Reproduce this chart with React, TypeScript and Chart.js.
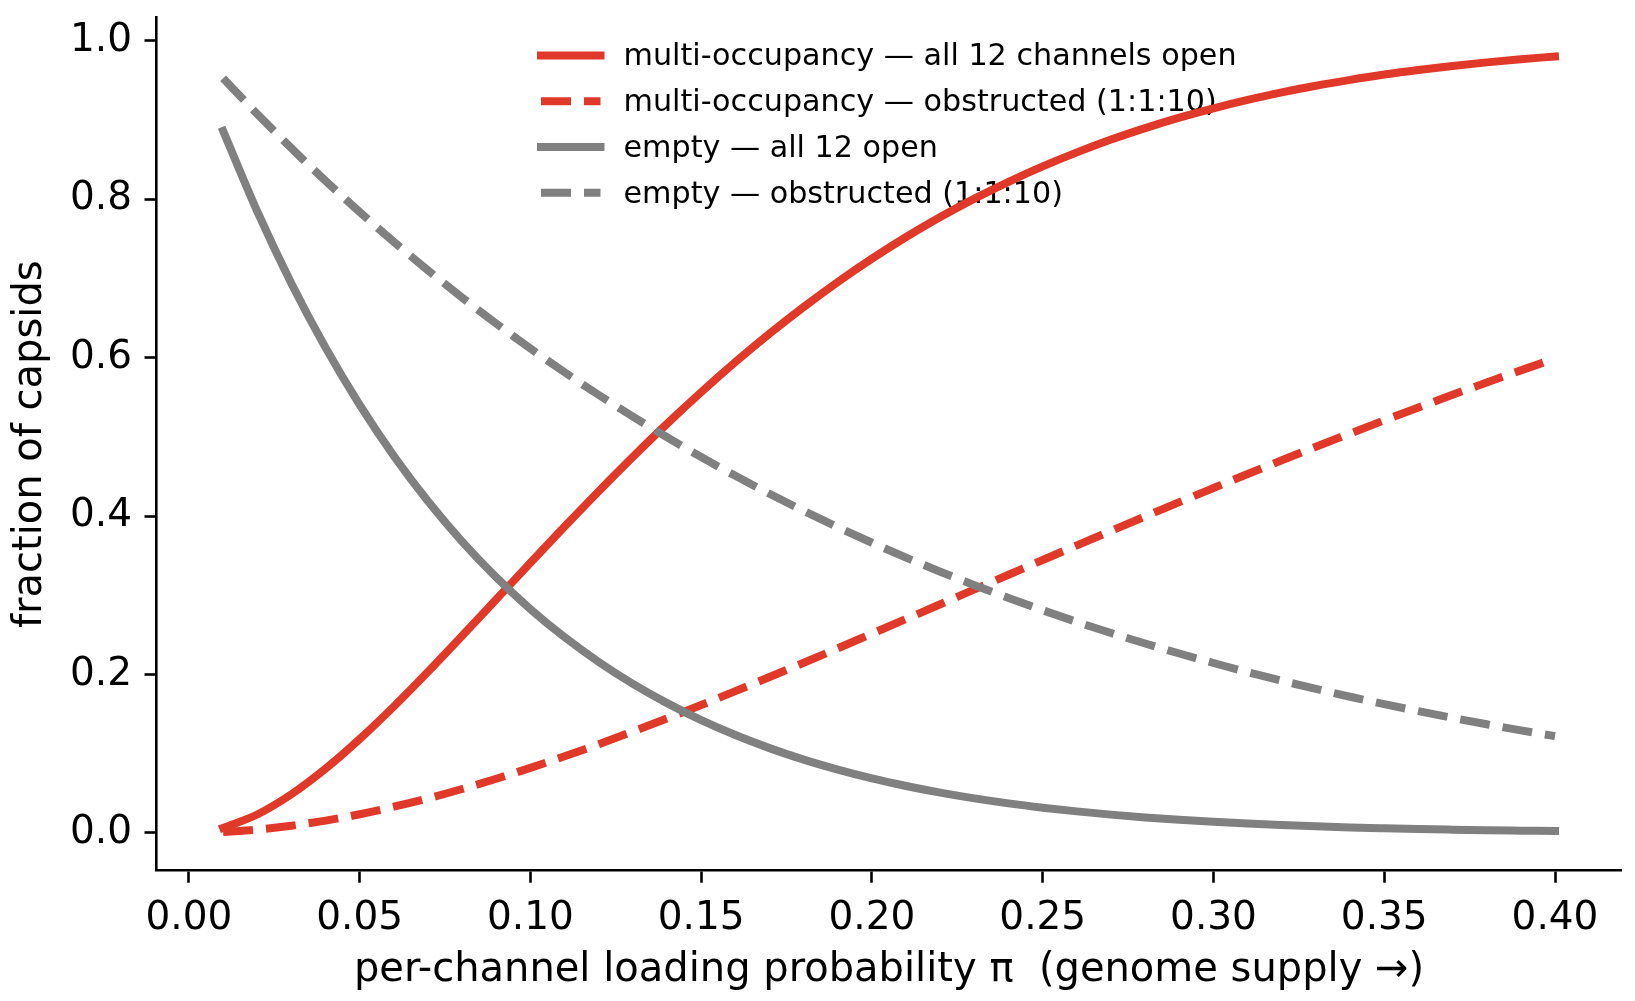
import React, { useEffect, useRef } from "react";
import { Chart, registerables } from "chart.js";

Chart.register(...registerables);

// ---- data ----
const piValues = [
  0.01, 0.02, 0.03, 0.04, 0.05, 0.06, 0.07, 0.08, 0.09, 0.1,
  0.11, 0.12, 0.13, 0.14, 0.15, 0.16, 0.17, 0.18, 0.19, 0.2,
  0.21, 0.22, 0.23, 0.24, 0.25, 0.26, 0.27, 0.28, 0.29, 0.3,
  0.31, 0.32, 0.33, 0.34, 0.35, 0.36, 0.37, 0.38, 0.39, 0.4,
];

const multiAllOpen = [
  0.0062, 0.0231, 0.0486, 0.0809, 0.1184, 0.1595, 0.2033, 0.2487, 0.2948, 0.341,
  0.3867, 0.4314, 0.4748, 0.5166, 0.5565, 0.5945, 0.6304, 0.6641, 0.6957, 0.7251,
  0.7524, 0.7776, 0.8009, 0.8222, 0.8416, 0.8593, 0.8755, 0.89, 0.9032, 0.915,
  0.9256, 0.935, 0.9435, 0.9509, 0.9576, 0.9634, 0.9685, 0.973, 0.977, 0.9804,
];

const multiObstructed = [
  0.001, 0.0041, 0.0089, 0.0154, 0.0234, 0.0329, 0.0435, 0.0553, 0.0682, 0.082,
  0.0966, 0.1119, 0.1279, 0.1444, 0.1614, 0.1789, 0.1967, 0.2147, 0.233, 0.2515,
  0.27, 0.2886, 0.3073, 0.3259, 0.3445, 0.363, 0.3813, 0.3995, 0.4176, 0.4354,
  0.4531, 0.4704, 0.4875, 0.5043, 0.5209, 0.5371, 0.5531, 0.5687, 0.584, 0.5989,
];

const emptyAllOpen = [
  0.8864, 0.7847, 0.6938, 0.6127, 0.5404, 0.4759, 0.4186, 0.3677, 0.3225, 0.2824,
  0.247, 0.2157, 0.188, 0.1637, 0.1422, 0.1234, 0.1069, 0.0924, 0.0798, 0.0687,
  0.0591, 0.0507, 0.0434, 0.0371, 0.0317, 0.027, 0.0229, 0.0194, 0.0164, 0.0138,
  0.0116, 0.0098, 0.0082, 0.0068, 0.0057, 0.0047, 0.0039, 0.0032, 0.0027, 0.0022,
];

const emptyObstructed = [
  0.9528, 0.9078, 0.8646, 0.8234, 0.784, 0.7463, 0.7103, 0.6759, 0.643, 0.6115,
  0.5816, 0.5529, 0.5256, 0.4995, 0.4745, 0.4508, 0.4281, 0.4065, 0.3859, 0.3663,
  0.3475, 0.3297, 0.3127, 0.2965, 0.281, 0.2663, 0.2523, 0.239, 0.2264, 0.2144,
  0.2029, 0.192, 0.1817, 0.1718, 0.1625, 0.1536, 0.1451, 0.137, 0.1293, 0.122,
];

const seriesLabels = [
  "multi-occupancy — all 12 channels open",
  "multi-occupancy — obstructed (1:1:10)",
  "empty — all 12 open",
  "empty — obstructed (1:1:10)",
];

const xTickValues = [0, 0.05, 0.1, 0.15, 0.2, 0.25, 0.3, 0.35, 0.4];
const xTickLabels = ["0.00", "0.05", "0.10", "0.15", "0.20", "0.25", "0.30", "0.35", "0.40"];
const yTickValues = [0, 0.2, 0.4, 0.6, 0.8, 1.0];
const yTickLabels = ["0.0", "0.2", "0.4", "0.6", "0.8", "1.0"];

const xTitle = "per-channel loading probability π  (genome supply →)";
const yTitle = "fraction of capsids";

// axis limits (matplotlib-style 5% margins)
const X_MIN = -0.0095;
const X_MAX = 0.4195;
const Y_MIN = -0.0479;
const Y_MAX = 1.0294;

// ---- styles ----
const RED = "#e0392a";
const GRAY = "#808080";
const FONT = "DejaVu Sans";
const LW = 8;
const DASH = [30, 13];

const legendPlugin = {
  id: "inlineLegend",
  beforeDatasetsDraw(chart: any) {
    const ctx = chart.ctx as CanvasRenderingContext2D;
    const rowStart = 55.4;
    const rowStep = 45.8;
    ctx.save();
    chart.data.datasets.forEach((ds: any, i: number) => {
      const cy = rowStart + i * rowStep;
      ctx.strokeStyle = ds.borderColor;
      ctx.lineWidth = ds.borderWidth;
      ctx.setLineDash(ds.borderDash || []);
      ctx.lineCap = ds.borderCapStyle || "butt";
      ctx.beginPath();
      ctx.moveTo(541, cy);
      ctx.lineTo(600.5, cy);
      ctx.stroke();
      ctx.setLineDash([]);
      ctx.fillStyle = "#000";
      ctx.font = `30.2px "${FONT}"`;
      ctx.textAlign = "left";
      ctx.textBaseline = "alphabetic";
      ctx.fillText(ds.label, 623.5, cy + 10);
    });
    ctx.restore();
  },
};

export default function App() {
  const ref = useRef<HTMLCanvasElement>(null);

  useEffect(() => {
    const canvas = ref.current;
    if (!canvas) return;
    const pts = (ys: number[]) => piValues.map((x, i) => ({ x, y: ys[i] }));

    const chart = new Chart(canvas, {
      type: "line",
      data: {
        datasets: [
          {
            label: seriesLabels[0],
            data: pts(multiAllOpen),
            borderColor: RED,
            borderWidth: LW,
            borderDash: [],
            borderCapStyle: "square",
            order: 3,
          },
          {
            label: seriesLabels[1],
            data: pts(multiObstructed),
            borderColor: RED,
            borderWidth: LW,
            borderDash: DASH,
            borderCapStyle: "butt",
            order: 2,
          },
          {
            label: seriesLabels[2],
            data: pts(emptyAllOpen),
            borderColor: GRAY,
            borderWidth: LW,
            borderDash: [],
            borderCapStyle: "square",
            order: 1,
          },
          {
            label: seriesLabels[3],
            data: pts(emptyObstructed),
            borderColor: GRAY,
            borderWidth: LW,
            borderDash: DASH,
            borderCapStyle: "butt",
            order: 0,
          },
        ] as any,
      },
      options: {
        animation: false,
        responsive: false,
        devicePixelRatio: 1,
        layout: { padding: { left: 0, top: 17.7, right: 13.4, bottom: 0 } },
        plugins: {
          legend: { display: false },
          tooltip: { enabled: false },
        },
        elements: {
          point: { radius: 0 },
          line: { cubicInterpolationMode: "monotone", borderJoinStyle: "round", fill: false },
        },
        scales: {
          x: {
            type: "linear",
            min: X_MIN,
            max: X_MAX,
            afterBuildTicks: (s: any) => {
              s.ticks = xTickValues.map((v) => ({ value: v }));
            },
            afterFit: (s: any) => {
              s.height = 130.3;
              s.paddingLeft = 0;
              s.paddingRight = 0;
            },
            ticks: {
              callback: (_v: any, i: number) => xTickLabels[i],
              autoSkip: false,
              maxRotation: 0,
              minRotation: 0,
              padding: 13,
              color: "#000",
              font: { family: FONT, size: 39 },
            },
            grid: {
              drawOnChartArea: false,
              drawTicks: true,
              tickLength: 12,
              tickWidth: 2.6,
              tickColor: "#000",
            },
            border: { display: true, color: "#000", width: 2.6 },
            title: {
              display: true,
              text: xTitle,
              color: "#000",
              font: { family: FONT, size: 40 },
              padding: { top: 0, bottom: 6 },
            },
          },
          y: {
            type: "linear",
            min: Y_MIN,
            max: Y_MAX,
            afterBuildTicks: (s: any) => {
              s.ticks = yTickValues.map((v) => ({ value: v }));
            },
            afterFit: (s: any) => {
              s.width = 156.5;
              s.paddingTop = 0;
              s.paddingBottom = 0;
            },
            ticks: {
              callback: (_v: any, i: number) => yTickLabels[i],
              autoSkip: false,
              padding: 12.5,
              color: "#000",
              font: { family: FONT, size: 39 },
            },
            grid: {
              drawOnChartArea: false,
              drawTicks: true,
              tickLength: 12,
              tickWidth: 2.6,
              tickColor: "#000",
            },
            border: { display: true, color: "#000", width: 2.6 },
            title: {
              display: true,
              text: yTitle,
              color: "#000",
              font: { family: FONT, size: 40 },
              padding: { top: 7, bottom: 0 },
            },
          },
        },
      } as any,
      plugins: [legendPlugin],
    });

    return () => chart.destroy();
  }, []);

  return (
    <div
      style={{
        position: "fixed",
        left: 0,
        top: 0,
        width: 1635,
        height: 1001,
        background: "#fff",
      }}
    >
      <canvas
        ref={ref}
        width={1635}
        height={1001}
        style={{ width: 1635, height: 1001, display: "block" }}
      />
    </div>
  );
}
